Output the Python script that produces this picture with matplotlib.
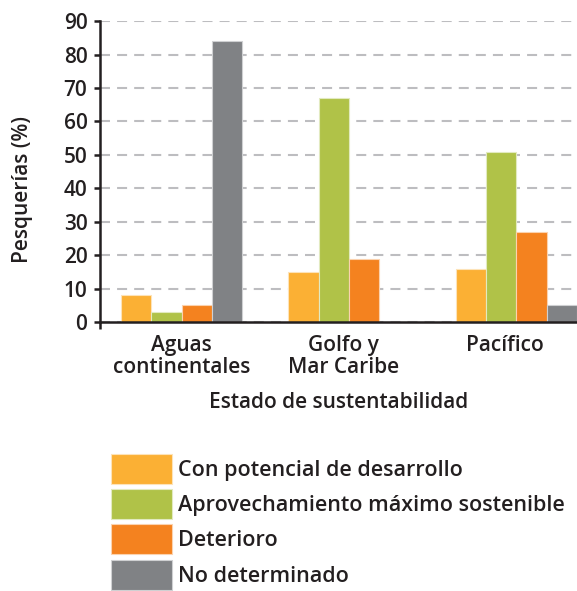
import numpy as np
import matplotlib
matplotlib.use("Agg")
import matplotlib.pyplot as plt
from matplotlib.ticker import FixedLocator

plt.rcParams['font.family'] = ['Open Sans', 'DejaVu Sans']
plt.rcParams['font.weight'] = 'semibold'
plt.rcParams['axes.labelweight'] = 'semibold'

# Data
regions = ['Aguas\ncontinentales', 'Golfo y\nMar Caribe', 'Pacífico']
series = ['Con potencial de desarrollo', 'Aprovechamiento máximo sostenible',
          'Deterioro', 'No determinado']
potencial = [8, 15, 16]
maximo = [3, 67, 51]
deterioro = [5, 19, 27]
no_determinado = [84, 0, 5]

colors = ['#FBB034', '#B0C248', '#F4821F', '#808285']
edges = ['#FDE3B8', '#E2EAC0', '#FBD2AE', '#CFD0D2']
text_color = '#231F20'
fs = 15

fig = plt.figure(figsize=(5.77, 5.91), dpi=100)
ax = fig.add_axes([0.1733, 0.455, 0.8267, 0.5093])

x = np.arange(len(regions))
w = 0.181
values = [potencial, maximo, deterioro, no_determinado]
handles = []
for i, (vals, c, ec, name) in enumerate(zip(values, colors, edges, series)):
    h = ax.bar(x - 1.5 * w + i * w, vals, width=w, color=c, edgecolor=ec,
               linewidth=0.8, label=name, zorder=3)
    handles.append(h)

ax.set_ylim(0, 90)
ax.set_xlim(-0.487, 2.362)
ax.set_yticks(range(0, 91, 10))

ax.set_xticks(x * 0.965)
ax.set_xticklabels(regions, fontsize=fs, color=text_color, linespacing=1.1)
ax.tick_params(axis='x', length=0, pad=9)
ax.xaxis.set_minor_locator(FixedLocator([-0.487]))
ax.tick_params(axis='x', which='minor', length=5, width=1.8, color=text_color,
               direction='out')
ax.tick_params(axis='y', length=4, width=1.8, color=text_color, pad=5,
               labelsize=fs, labelcolor=text_color)

ax.yaxis.grid(True, color='#BDBDC0', linewidth=1.5, linestyle=(0, (4.8, 3.4)),
              zorder=0)
ax.set_axisbelow(True)

for s in ['top', 'right']:
    ax.spines[s].set_visible(False)
for s in ['left', 'bottom']:
    ax.spines[s].set_linewidth(1.8)
    ax.spines[s].set_color(text_color)
    ax.spines[s].set_zorder(4)

ax.set_ylabel('Pesquerías (%)', fontsize=fs, color=text_color)
ax.yaxis.set_label_coords(-0.14, 0.44)
ax.set_xlabel('Estado de sustentabilidad', fontsize=fs, color=text_color,
              labelpad=10)

fig.legend(handles=handles, labels=series, loc='upper left',
           bbox_to_anchor=(0.192, 0.232), frameon=False, fontsize=15.5,
           handlelength=2.85, handleheight=1.76, handletextpad=0.25,
           labelspacing=0.25, borderpad=0, borderaxespad=0,
           labelcolor=text_color)

fig.savefig('out.png', dpi=100)
